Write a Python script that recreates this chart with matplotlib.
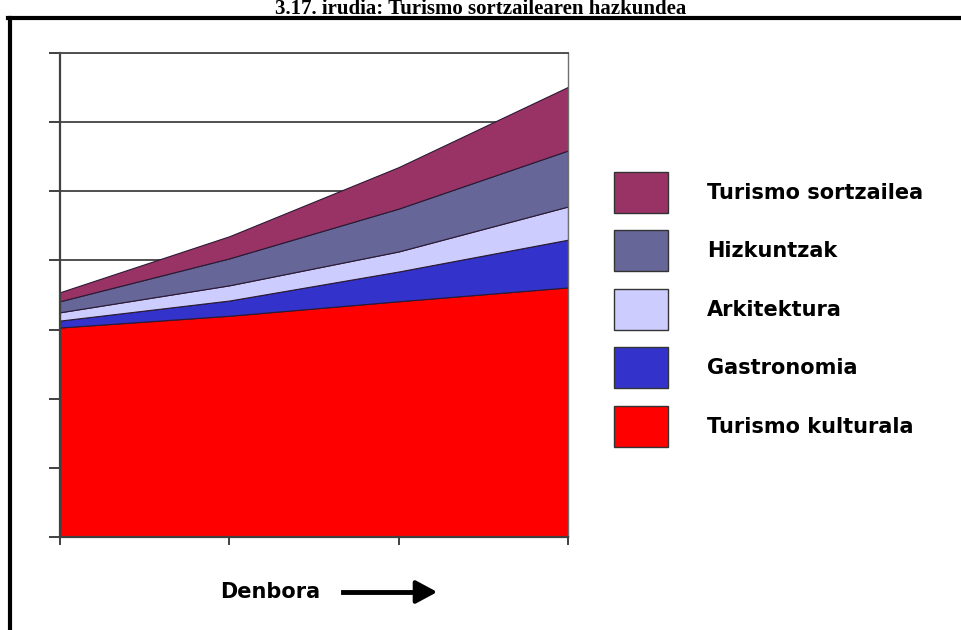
import matplotlib.pyplot as plt
from matplotlib.patches import Patch
from matplotlib.lines import Line2D

# datos (4 momentos en el tiempo)
denbora = [0, 1, 2, 3]
turismo_kulturala = [3.03, 3.20, 3.41, 3.61]
gastronomia = [0.10, 0.22, 0.43, 0.69]
arkitektura = [0.12, 0.22, 0.29, 0.48]
hizkuntzak = [0.16, 0.39, 0.62, 0.81]
turismo_sortzailea = [0.13, 0.32, 0.60, 0.92]

izenak = ['Turismo kulturala', 'Gastronomia', 'Arkitektura', 'Hizkuntzak', 'Turismo sortzailea']
koloreak = ['#ff0000', '#3333cc', '#ccccff', '#666699', '#993366']

fig = plt.figure(figsize=(9.61, 6.30), dpi=100)
ax = fig.add_axes([60/961, 1 - 537/630, (568 - 60)/961, (537 - 53)/630])

ax.stackplot(denbora, turismo_kulturala, gastronomia, arkitektura, hizkuntzak, turismo_sortzailea,
             colors=koloreak, edgecolor='#2a1a33', linewidth=0.8)

ax.set_xlim(0, 3)
ax.set_ylim(0, 7)
ax.set_xticks([0, 1, 2, 3])
ax.set_yticks(range(0, 8))
ax.set_xticklabels([])
ax.set_yticklabels([])
ax.set_axisbelow(True)
ax.yaxis.grid(True, color='#505050', linewidth=1.4)
ax.tick_params(axis='y', length=8, width=1.4, color='#404040')
ax.tick_params(axis='x', length=6, width=1.4, color='#404040')
for lado in ['left', 'bottom']:
    ax.spines[lado].set_color('#404040')
    ax.spines[lado].set_linewidth(1.6)
ax.spines['right'].set_color('#707070')
ax.spines['right'].set_linewidth(1.0)
ax.spines['top'].set_color('#505050')
ax.spines['top'].set_linewidth(1.4)

# leyenda a la derecha, en orden inverso
handles = [Patch(facecolor=c, edgecolor='#333333', linewidth=1.0) for c in koloreak[::-1]]
fig.legend(handles, izenak[::-1], loc='upper left', bbox_to_anchor=(614/961, 1 - 172/630),
           frameon=False, borderpad=0, borderaxespad=0, handlelength=2.6, handleheight=2.65,
           handletextpad=1.87, labelspacing=0.84,
           prop={'family': 'DejaVu Sans', 'weight': 'bold', 'size': 15})

# eje del tiempo
fig.text(220/961, 1 - 592/630, 'Denbora', fontsize=15, fontweight='bold',
         family='DejaVu Sans', va='center', ha='left')
fig.add_artist(Line2D([343/961, 425/961], [1 - 592/630, 1 - 592/630],
                      color='black', linewidth=3.5))
ax.annotate('', xy=(440/961, 1 - 592/630), xytext=(418/961, 1 - 592/630),
            xycoords='figure fraction', textcoords='figure fraction',
            arrowprops=dict(arrowstyle='-|>,head_length=1.3,head_width=0.7', color='black', lw=3))

# marco y titulo
fig.add_artist(Line2D([8/961, 1], [1 - 18/630, 1 - 18/630], color='black', linewidth=3))
fig.add_artist(Line2D([10/961, 10/961], [0, 1 - 18/630], color='black', linewidth=3))
fig.text(0.5, 1 - 14.5/630, '3.17. irudia: Turismo sortzailearen hazkundea', ha='center',
         va='baseline', family='Liberation Serif', fontweight='bold', fontsize=15)

fig.savefig('out.png', dpi=100)
